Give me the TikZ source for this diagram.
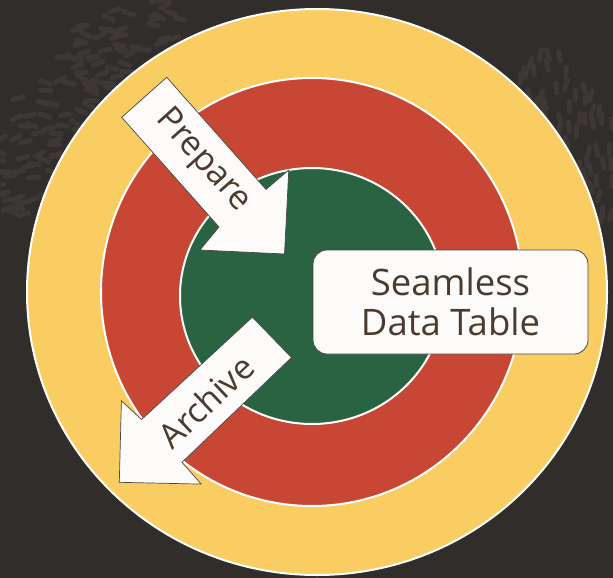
\documentclass[tikz,border=0pt]{standalone}
\usepackage{fontspec}
\setmainfont{Open Sans}
\usetikzlibrary{positioning}
\definecolor{bgdark}{HTML}{312D2A}
\definecolor{bgspeck}{HTML}{3D3835}
\definecolor{ringyellow}{HTML}{FACD62}
\definecolor{ringred}{HTML}{C74634}
\definecolor{coregreen}{HTML}{2A6342}
\definecolor{paper}{HTML}{FCFBFA}
\definecolor{inkbrown}{HTML}{4C3A2E}
\definecolor{edgegrey}{HTML}{4A4644}
\tikzset{
  ring/.style       = {draw=white, line width=2pt},
  blockarrow/.style = {draw=edgegrey, fill=paper, line width=0.7pt, line join=miter},
  arrowtext/.style  = {text=inkbrown, inner sep=0pt, font=\fontsize{34}{38}\selectfont},
  tablebox/.style   = {rounded corners=14pt, draw=edgegrey, fill=paper, line width=0.8pt,
                       text=inkbrown, align=center, inner sep=0pt,
                       minimum width=275pt, minimum height=104pt,
                       font=\fontsize{36.5}{40}\selectfont},
  speck/.style      = {draw=bgspeck, line width=5pt, line cap=round},
}
\begin{document}
\begin{tikzpicture}[x=1pt,y=-1pt]
  \useasboundingbox (0,0) rectangle (613,578);
  \fill[bgdark] (0,0) rectangle (613,578);
  % texture behind the rings
  \pgfmathsetseed{11}
  \begin{scope}[shift={(317,292)}]
    \foreach \i in {1,...,120}{
      \pgfmathsetmacro\ang{-166+50*rnd}
      \pgfmathsetmacro\rad{292+70*rnd}
      \pgfmathsetmacro\dir{-30+60*rnd}
      \draw[speck] (\ang:\rad) -- ++(\dir:10);
    }
    \foreach \i in {1,...,70}{
      \pgfmathsetmacro\ang{-48+42*rnd}
      \pgfmathsetmacro\rad{292+50*rnd}
      \pgfmathsetmacro\dir{70+40*rnd}
      \draw[speck] (\ang:\rad) -- ++(\dir:10);
    }
  \end{scope}
  % rings
  \filldraw[ring, fill=ringyellow] (317,292) ellipse [x radius=290, y radius=283];
  \filldraw[ring, fill=ringred]    (312,292) ellipse [x radius=211, y radius=214];
  \filldraw[ring, fill=coregreen]  (312,296) ellipse [x radius=132, y radius=128];
  % block arrows
  \filldraw[blockarrow] (166.7,77.3) -- (121.7,117.3) -- (219,227) -- (200,250)
    -- (284.5,254) -- (288.8,170) -- (266,189.5) -- cycle;
  \node[arrowtext, rotate=-48.3] (prep) at (203,161) {Prepare};
  \filldraw[blockarrow] (252.4,317.2) -- (291.5,357.5) -- (182,462.3) -- (201.2,484.1)
    -- (119.3,482.3) -- (121.4,400.8) -- (141.6,419.5) -- cycle;
  \node[arrowtext, rotate=43.4] (arch) at (206,401) {Archive};
  % centre box
  \node[tablebox] (sdt) at (450.5,302) {Seamless\\Data Table};
\end{tikzpicture}
\end{document}
